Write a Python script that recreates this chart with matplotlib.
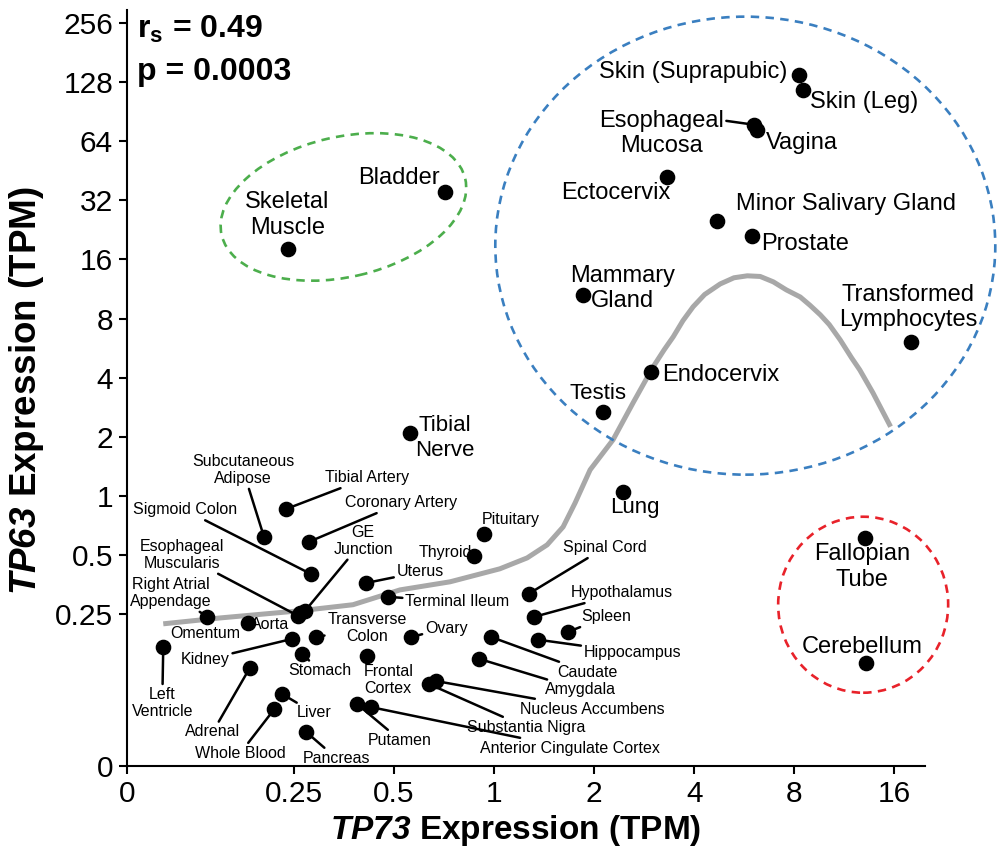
import numpy as np
import matplotlib
matplotlib.use("Agg")
import matplotlib.pyplot as plt
from matplotlib.patches import Ellipse
from matplotlib.transforms import IdentityTransform

plt.rcParams['font.family'] = ['Liberation Sans', 'DejaVu Sans']
plt.rcParams['mathtext.fontset'] = 'custom'
plt.rcParams['mathtext.rm'] = 'Liberation Sans'
plt.rcParams['mathtext.bf'] = 'Liberation Sans:bold'
plt.rcParams['mathtext.bfit'] = 'Liberation Sans:italic:bold'

# median TPM per tissue
tissues = ["Skin (Suprapubic)", "Skin (Leg)", "Esophageal\nMucosa", "Vagina",
           "Ectocervix", "Minor Salivary Gland", "Prostate", "Mammary\nGland",
           "Transformed\nLymphocytes", "Endocervix", "Testis", "Lung",
           "Tibial\nNerve", "Bladder", "Skeletal\nMuscle", "Fallopian\nTube",
           "Cerebellum", "Subcutaneous\nAdipose", "Tibial Artery",
           "Coronary Artery", "Sigmoid Colon", "Esophageal\nMuscularis",
           "GE\nJunction", "Aorta", "Right Atrial\nAppendage", "Omentum",
           "Kidney", "Transverse\nColon", "Stomach", "Left\nVentricle",
           "Adrenal", "Liver", "Whole Blood", "Pancreas", "Frontal\nCortex",
           "Putamen", "Anterior Cingulate Cortex", "Uterus", "Terminal Ileum",
           "Ovary", "Pituitary", "Thyroid", "Spinal Cord", "Hypothalamus",
           "Spleen", "Hippocampus", "Caudate", "Amygdala",
           "Nucleus Accumbens", "Substantia Nigra"]
tp73 = [8.28, 8.51, 6.06, 6.19, 3.32, 4.69, 5.98, 1.85, 18.0, 2.97, 2.13, 2.45,
        0.559, 0.712, 0.240, 13.1, 13.2, 0.203, 0.237, 0.277, 0.281, 0.257,
        0.270, 0.261, 0.137, 0.182, 0.247, 0.291, 0.264, 0.101, 0.184, 0.230,
        0.218, 0.272, 0.415, 0.387, 0.426, 0.412, 0.480, 0.563, 0.933, 0.871,
        1.27, 1.32, 1.67, 1.36, 0.98, 0.90, 0.669, 0.637]
tp63 = [139.5, 117.0, 77.6, 73.2, 42.2, 25.2, 21.1, 10.6, 6.09, 4.28, 2.68, 1.05,
        2.09, 35.4, 18.1, 0.611, 0.141, 0.618, 0.858, 0.583, 0.400, 0.245,
        0.260, 0.254, 0.242, 0.225, 0.187, 0.191, 0.157, 0.170, 0.133, 0.098,
        0.082, 0.0627, 0.153, 0.087, 0.084, 0.360, 0.306, 0.191, 0.641, 0.495,
        0.317, 0.242, 0.203, 0.185, 0.191, 0.148, 0.114, 0.110]

# smoothed trend
trend_x = [0.101, 0.150, 0.261, 0.376, 0.521, 0.737, 1.04, 1.257, 1.444, 1.613,
           1.753, 1.945, 2.28, 2.62, 3.01, 3.25, 3.46, 3.70, 3.97, 4.30, 4.79,
           5.27, 5.78, 6.32, 6.92, 7.57, 8.34, 8.92, 9.58, 10.2, 11.0, 11.9,
           12.6, 13.8, 15.6]
trend_y = [0.223, 0.239, 0.260, 0.279, 0.332, 0.365, 0.425, 0.483, 0.563, 0.695,
           0.921, 1.357, 1.93, 2.98, 4.54, 5.55, 6.46, 7.80, 9.18, 10.6, 12.0,
           12.9, 13.2, 13.1, 12.3, 11.2, 10.3, 9.35, 8.36, 7.45, 6.23, 5.05,
           4.38, 3.35, 2.25]

x_ticks = [0, 0.25, 0.5, 1, 2, 4, 8, 16]
x_ticklabels = ["0", "0.25", "0.5", "1", "2", "4", "8", "16"]
y_ticks = [0, 0.25, 0.5, 1, 2, 4, 8, 16, 32, 64, 128, 256]
y_ticklabels = ["0", "0.25", "0.5", "1", "2", "4", "8", "16", "32", "64",
                "128", "256"]

# label placement: offset (px) from point, font size, leader line
BIG, MID, SMALL = 17, 16, 11.5
label_pos = {
    "Skin (Suprapubic)": (-106, 3, BIG, False),
    "Skin (Leg)": (61, -12, BIG, False),
    "Esophageal\nMucosa": (-93, -9, BIG, True),
    "Vagina": (45, -13, BIG, False),
    "Ectocervix": (-51, -16, BIG, False),
    "Minor Salivary Gland": (129, 17, BIG, False),
    "Prostate": (53, -8, BIG, False),
    "Mammary\nGland": (40, 6, BIG, False),
    "Transformed\nLymphocytes": (-3, 34, BIG, False),
    "Endocervix": (70, -3, BIG, False),
    "Testis": (-5, 18, MID, False),
    "Lung": (11, -16, MID, False),
    "Tibial\nNerve": (35, -5, MID, False),
    "Bladder": (-46, 14, BIG, False),
    "Skeletal\nMuscle": (-1, 34, BIG, False),
    "Fallopian\nTube": (-3, -29, BIG, False),
    "Cerebellum": (-4, 16, BIG, False),
    "Subcutaneous\nAdipose": (-21, 67, SMALL, True),
    "Tibial Artery": (81, 31, SMALL, True),
    "Coronary Artery": (92, 39, SMALL, True),
    "Sigmoid Colon": (-126, 64, SMALL, True),
    "Esophageal\nMuscularis": (-116, 61, SMALL, True),
    "GE\nJunction": (58, 70, SMALL, True),
    "Aorta": (-30, -12, SMALL, False),
    "Right Atrial\nAppendage": (-36, 24, SMALL, True),
    "Omentum": (-43, -10, SMALL, True),
    "Kidney": (-87, -21, SMALL, True),
    "Transverse\nColon": (51, 9, SMALL, True),
    "Stomach": (18, -17, SMALL, True),
    "Left\nVentricle": (-1, -56, SMALL, True),
    "Adrenal": (-37, -64, SMALL, True),
    "Liver": (32, -19, SMALL, True),
    "Whole Blood": (-34, -44, SMALL, True),
    "Pancreas": (30, -26, SMALL, True),
    "Frontal\nCortex": (21, -24, SMALL, True),
    "Putamen": (43, -36, SMALL, True),
    "Anterior Cingulate Cortex": (199, -41, SMALL, True),
    "Uterus": (54, 11, SMALL, True),
    "Terminal Ileum": (69, -5, SMALL, True),
    "Ovary": (35, 9, SMALL, True),
    "Pituitary": (27, 14, SMALL, False),
    "Thyroid": (-29, 3, SMALL, False),
    "Spinal Cord": (76, 46, SMALL, True),
    "Hypothalamus": (88, 24, SMALL, True),
    "Spleen": (38, 15, SMALL, True),
    "Hippocampus": (94, -13, SMALL, True),
    "Caudate": (96, -35, SMALL, True),
    "Amygdala": (102, -31, SMALL, True),
    "Nucleus Accumbens": (156, -28, SMALL, True),
    "Substantia Nigra": (97, -43, SMALL, True),
}
# where the leader leaves the text box, if not from its centre
leader_from = {"Esophageal\nMucosa": (1.0, 0.78)}

# zero is pinned a bit below the smallest tick on each log2 axis
X_FLOOR = 2 ** -3.67
Y_FLOOR = 2 ** -4.57

fig = plt.figure(figsize=(9.97, 8.48), dpi=100)
ax = fig.add_axes([127 / 997, 82 / 848, 798 / 997, 756 / 848])

ax.set_xscale('function', functions=(lambda v: np.log2(np.maximum(v, X_FLOOR)),
                                      lambda v: 2.0 ** v))
ax.set_yscale('function', functions=(lambda v: np.log2(np.maximum(v, Y_FLOOR)),
                                      lambda v: 2.0 ** v))
ax.set_xlim(0, 19.8)
ax.set_ylim(0, 298)

ax.plot(trend_x, trend_y, color='#a8a8a8', lw=3.6, zorder=1,
        solid_capstyle='butt', solid_joinstyle='round')
ax.scatter(tp73, tp63, s=105, c='black', zorder=3, clip_on=False)

for name, x, y in zip(tissues, tp73, tp63):
    dx, dy, size, leader = label_pos[name]
    kw = {}
    if leader:
        kw['arrowprops'] = dict(arrowstyle='-', color='black', lw=1.8,
                                shrinkA=0, shrinkB=0,
                                relpos=leader_from.get(name, (0.5, 0.5)))
    ax.annotate(name, (x, y), xytext=(dx, dy), textcoords='offset pixels',
                ha='center', va='center', fontsize=size, zorder=2, **kw)

# dashed groupings: centre in data units, size in pixels
groups = [((0.352, 29.6), 250, 140, 13, '#4cae4c'),
          ((5.70, 18.8), 500, 458, 0, '#3a7fc0'),
          ((12.9, 0.279), 170, 176, 0, '#e8222a')]
for (gx, gy), w, h, ang, col in groups:
    cx, cy = ax.transData.transform((gx, gy))
    e = Ellipse((cx, cy), w, h, angle=ang, transform=IdentityTransform(),
                fill=False, edgecolor=col, lw=1.9, linestyle=(0, (3.2, 2.4)))
    fig.add_artist(e)

ax.text(0.0125, 0.964, r'r$_\mathbf{s}$ = 0.49', transform=ax.transAxes,
        fontsize=23, fontweight='bold', va='baseline')
ax.text(0.0125, 0.907, 'p = 0.0003', transform=ax.transAxes,
        fontsize=23, fontweight='bold', va='baseline')

ax.set_xticks(x_ticks)
ax.set_xticklabels(x_ticklabels)
ax.set_yticks(y_ticks)
ax.set_yticklabels(y_ticklabels)
ax.minorticks_off()
ax.tick_params(direction='out', length=6, width=1.5, labelsize=21.5, pad=4)

for side in ['top', 'right']:
    ax.spines[side].set_visible(False)
for side in ['left', 'bottom']:
    ax.spines[side].set_linewidth(1.5)

ax.set_xlabel(r'$\mathbfit{TP73}$ Expression (TPM)', fontsize=24,
              fontweight='bold')
ax.xaxis.set_label_coords(0.487, -0.085)
ax.xaxis.label.set_va('center')
ax.set_ylabel(r'$\mathbfit{TP63}$ Expression (TPM)', fontsize=26.5,
              fontweight='bold')
ax.yaxis.set_label_coords(-0.126, 0.497)
ax.yaxis.label.set_va('center')

fig.savefig("out.png", dpi=100)
